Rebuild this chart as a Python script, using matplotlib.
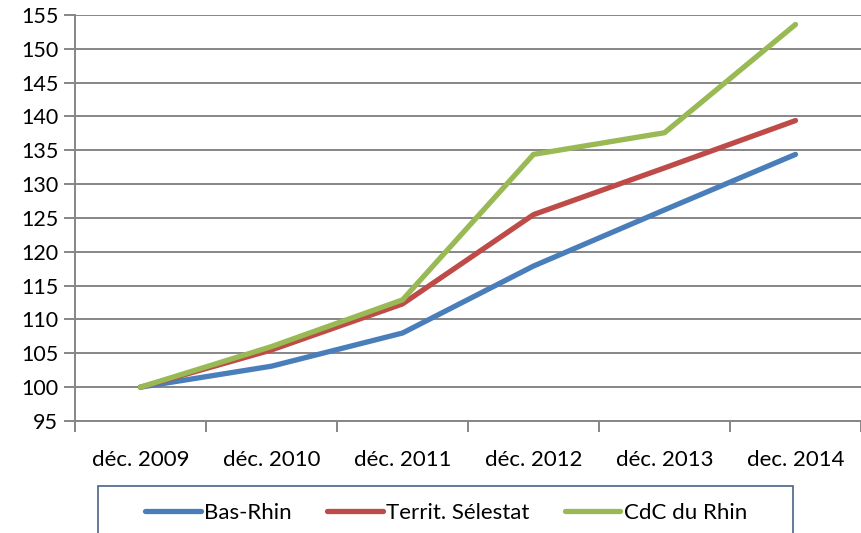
import matplotlib
matplotlib.use("Agg")
import matplotlib.pyplot as plt
from matplotlib.patches import Rectangle
from matplotlib.lines import Line2D

categories = ["déc. 2009", "déc. 2010", "déc. 2011", "déc. 2012", "déc. 2013", "dec. 2014"]
bas_rhin = [100, 103.1, 108.0, 117.9, 126.2, 134.4]
territ_selestat = [100, 105.5, 112.3, 125.5, 132.4, 139.4]
cdc_rhin = [100, 106.0, 112.9, 134.4, 137.6, 153.6]
series_names = ["Bas-Rhin", "Territ. Sélestat", "CdC du Rhin"]
colors = ["#4A7EBB", "#BE4B48", "#98B954"]
yticks = list(range(95, 156, 5))

plt.rcParams['font.family'] = ['Lato', 'DejaVu Sans']

W, H = 861, 533
fig = plt.figure(figsize=(W/100, H/100), dpi=100)
ax = fig.add_axes([75/W, 1-421/H, (W-75)/W, (421-15)/H])

x = list(range(len(categories)))
for vals, c in zip([bas_rhin, territ_selestat, cdc_rhin], colors):
    ax.plot(x, vals, color=c, lw=3.8, solid_capstyle='round', solid_joinstyle='round', zorder=3)

ax.set_xlim(-0.5, len(categories)-0.5)
ax.set_ylim(95, 155)
ax.set_yticks(yticks)
ax.yaxis.grid(True, color='#868686', lw=1.4)
ax.set_axisbelow(True)
for s in ['top', 'right']:
    ax.spines[s].set_visible(False)
for s in ['left', 'bottom']:
    ax.spines[s].set_color('#868686')
    ax.spines[s].set_linewidth(1.4)

ax.set_xticks(x)
ax.set_xticklabels(categories, fontsize=16)
ax.tick_params(axis='x', which='major', length=0, pad=21)
ax.set_xticks([i - 0.5 for i in range(len(categories)+1)], minor=True)
ax.tick_params(axis='x', which='minor', length=8, width=1.4, color='#868686')
ax.tick_params(axis='y', length=8, width=1.4, color='#868686', labelsize=15.5, pad=4)

# legend box (partially cut off at bottom)
fig.patches.append(Rectangle((98/W, -0.05), (793-98)/W, 0.05 + 1-486/H,
                             transform=fig.transFigure, fill=False,
                             edgecolor='#4a6488', lw=1.2))
handles = [Line2D([0], [0], color=c, lw=3.8, solid_capstyle='round') for c in colors]
fig.legend(handles, series_names, loc='center', bbox_to_anchor=(446/W, 1-513/H),
           ncol=3, frameon=False, fontsize=16, handlelength=2.5, handletextpad=0.15,
           columnspacing=1.6)

fig.savefig("out.png", dpi=100)
